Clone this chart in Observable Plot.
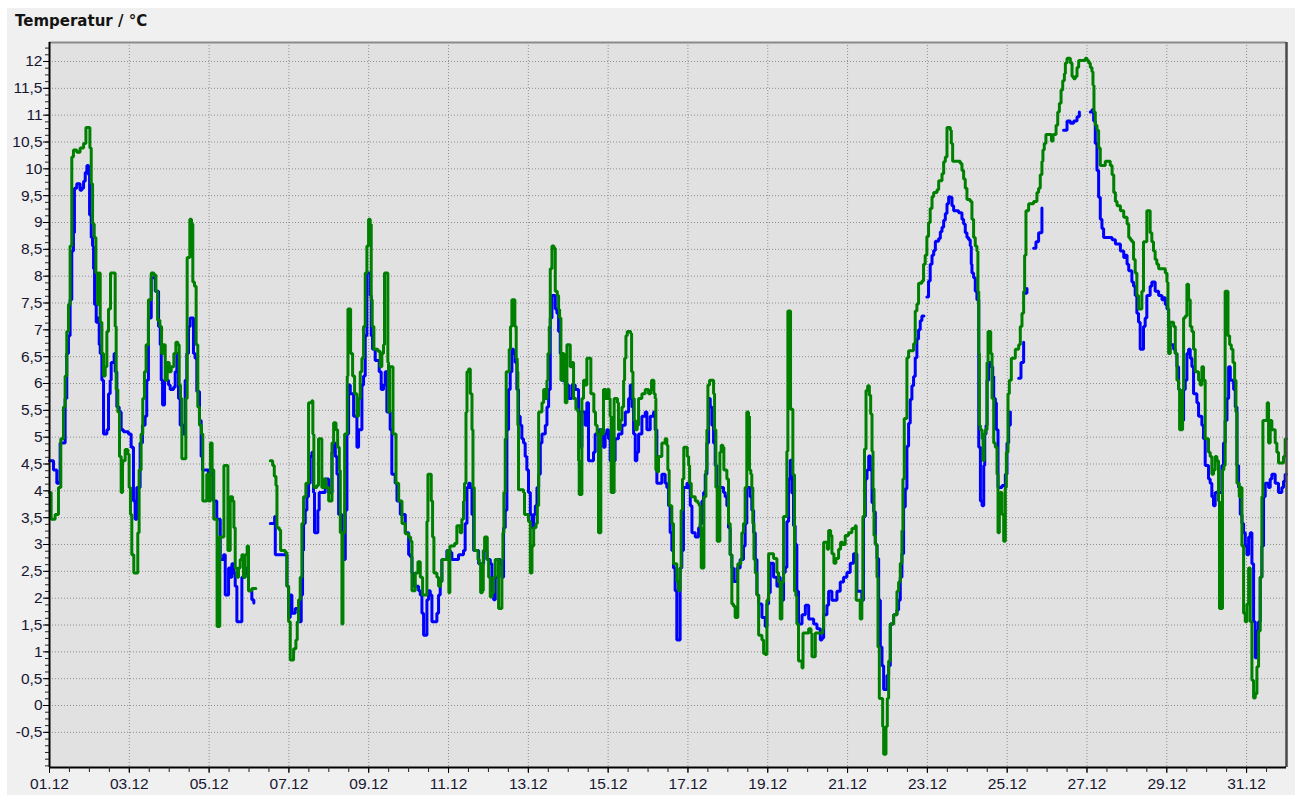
<!DOCTYPE html>
<html>
<head>
<meta charset="utf-8">
<script src="https://cdn.jsdelivr.net/npm/d3@7"></script>
<script src="https://cdn.jsdelivr.net/npm/@observablehq/plot@0.6"></script>
<style>
  html, body { margin: 0; padding: 0; background: #ffffff; overflow: hidden; }
  #wrap { position: relative; width: 1295px; height: 795px; }
  #panel { position: absolute; left: 7px; top: 8px; right: 0; bottom: 0; background: #f0f0f0; }
  #title { position: absolute; left: 15px; top: 14px; font: bold 15px/1 "DejaVu Sans", sans-serif; color: #141414; white-space: nowrap; }
  #chart { position: absolute; left: 0; top: 0; }
</style>
</head>
<body>
<div id="wrap">
  <div id="panel"></div>
  <div id="title">Temperatur / °C</div>
  <div id="chart"></div>
</div>
<script>
// hours since 01.12 00:00, temperature in °C (null = gap)
const greenSeries = [[0,3.97],[1,3.47],[3.4,3.56],[5.4,4.06],[6.8,4.97],[8.4,5.56],[9.4,6.14],[10.4,6.97],[11.4,7.47],[12.4,8.56],[13.4,10.22],[14.4,10.35],[16.4,10.31],[18.4,10.39],[20.5,10.47],[21.9,10.77],[23.5,10.77],[24.3,10.39],[25.1,9.72],[25.9,8.97],[26.9,8.72],[27.9,8.06],[28.9,7.47],[29.5,8.06],[30.5,7.14],[31.5,6.56],[32.5,6.14],[33.5,6.31],[34.5,6.97],[35.5,7.39],[36.7,8.06],[38.7,8.06],[39.5,7.06],[40.1,5.89],[41.1,5.47],[42.1,4.64],[43.1,3.97],[43.9,4.56],[45.5,4.77],[47.1,4.68],[47.9,4.06],[48.7,3.56],[49.5,2.81],[50.7,2.47],[52.1,2.47],[53.1,3.22],[53.9,4.39],[55.1,5.06],[56.1,5.72],[57.1,6.22],[58.1,6.72],[59.5,7.56],[61.2,8.06],[62.8,8.02],[64.0,7.72],[65.0,7.18],[66.4,7.06],[67.4,6.56],[68.4,6.72],[69.6,6.06],[70.8,6.39],[72.0,6.22],[73.2,6.31],[74.8,6.56],[76.0,6.77],[77.2,6.72],[78.0,5.97],[78.8,5.72],[79.6,4.6],[81.2,4.6],[82.0,5.72],[82.8,8.35],[83.8,8.35],[84.4,9.06],[85.4,8.97],[86.2,7.89],[87.2,7.81],[88.2,6.72],[89.2,5.56],[90.2,5.22],[91.4,5.06],[92.2,3.81],[93.8,3.81],[94.6,4.31],[95.6,3.81],[96.8,4.89],[97.8,4.39],[98.8,3.47],[100.0,3.47],[100.8,1.47],[102.0,1.47],[102.4,3.14],[104.0,3.14],[104.9,4.47],[106.1,4.47],[107.3,2.89],[108.7,3.89],[110.1,3.81],[110.9,3.31],[111.7,2.56],[112.7,2.39],[113.7,2.56],[114.7,2.72],[115.7,2.81],[116.7,2.39],[117.7,2.81],[118.9,2.97],[119.7,2.14],[121.7,2.18],[124.1,2.18],[125,null],[132.8,4.56],[134.2,4.47],[135.2,4.27],[136.2,4.1],[136.8,3.31],[138.2,3.27],[139.0,2.89],[141.8,2.85],[142.8,2.22],[143.8,1.56],[144.8,0.85],[146.8,1.06],[148.2,1.22],[149.0,1.56],[149.8,1.97],[150.8,2.39],[151.8,3.39],[152.8,3.89],[154.2,4.14],[155.8,5.64],[157.8,5.68],[158.4,5.06],[159.0,4.06],[160.8,4.1],[161.8,4.97],[163.0,4.97],[163.8,4.06],[165.0,4.22],[166.2,4.06],[167.9,3.81],[169.1,3.81],[169.9,4.89],[170.9,5.27],[172.3,5.14],[173.3,4.81],[174.3,4.39],[174.9,3.22],[175.9,1.52],[176.5,3.22],[177.5,5.06],[178.5,5.06],[179.1,6.14],[179.5,7.39],[180.5,7.39],[181.1,6.56],[182.3,6.14],[183.5,5.81],[184.9,5.39],[185.9,5.72],[186.9,6.22],[187.9,6.47],[188.9,7.06],[189.9,8.06],[190.9,8.56],[191.9,9.06],[192.9,8.97],[193.5,7.56],[194.1,7.06],[195.1,6.64],[197.5,6.6],[198.9,6.31],[199.9,6.56],[200.9,6.72],[201.5,8.06],[202.9,8.06],[203.5,6.39],[203.9,5.47],[204.5,6.31],[205.5,6.31],[206.6,5.06],[207.6,5.06],[208.4,4.14],[210.0,3.81],[212.0,3.39],[214.0,3.2],[216.0,3.14],[217.2,3.06],[218.0,2.14],[219.4,2.14],[220.0,2.47],[221.6,2.68],[223.0,2.39],[224.4,2.06],[226.4,2.06],[227.0,3.43],[227.6,4.31],[228.8,4.31],[229.6,3.81],[230.4,3.14],[231.2,2.47],[233.0,2.39],[234.0,2.22],[235.2,2.31],[236.0,2.72],[238.4,2.72],[239.4,2.89],[240.2,2.1],[240.8,2.97],[243.6,3.02],[245.0,3.35],[247.0,3.22],[248.0,3.47],[249.0,3.81],[249.6,4.14],[250.5,5.47],[251.1,6.22],[252.1,6.27],[253.1,5.81],[254.1,5.14],[254.7,4.06],[255.5,2.89],[257.7,2.72],[258.5,2.64],[259.3,2.1],[260.3,2.14],[260.9,2.89],[261.7,3.14],[262.7,3.14],[263.3,2.72],[264.1,2.39],[265.1,2.02],[266.1,2.1],[267.1,2.39],[268.1,2.72],[269.3,2.72],[270.1,1.81],[271.3,1.81],[272.1,2.72],[272.7,3.22],[273.3,3.97],[274.1,4.97],[274.7,6.22],[276.5,6.64],[277.3,7.06],[278.1,7.56],[279.3,7.56],[279.9,7.06],[280.7,6.47],[281.3,6.22],[281.7,5.22],[282.1,4.02],[285.1,3.97],[285.7,3.56],[288.1,3.43],[289.2,2.47],[290.2,2.97],[291.2,3.31],[292.6,3.39],[293.4,3.72],[294.2,5.47],[296.2,5.64],[297.2,5.89],[298.2,5.72],[299.2,6.06],[299.8,6.56],[300.6,7.06],[301.2,8.14],[302.2,8.56],[303.4,8.52],[304.2,7.72],[305.4,7.64],[306.2,7.39],[306.8,7.22],[307.6,6.06],[308.4,6.56],[309.4,6.39],[310.2,5.64],[311.2,6.72],[312.4,6.72],[313.2,6.31],[314.4,6.39],[315.2,5.72],[316.6,5.52],[317.8,5.47],[318.2,4.56],[318.6,3.93],[319.6,3.93],[320.2,5.72],[321.2,6.06],[322.2,5.97],[323.2,6.47],[325.0,6.47],[325.6,5.81],[326.6,5.81],[327.4,5.47],[328.4,5.22],[329.4,5.06],[330.2,3.22],[331.0,3.22],[331.6,5.14],[332.6,5.06],[333.2,5.89],[334.6,5.72],[335.6,5.89],[336.6,5.72],[337.2,5.39],[337.8,3.97],[339.0,3.97],[339.6,5.72],[340.8,5.72],[341.6,5.64],[342.2,5.14],[343.3,5.31],[344.3,5.56],[345.3,6.06],[345.9,6.47],[346.7,6.89],[347.5,6.97],[349.5,6.93],[350.1,6.22],[350.9,5.72],[351.7,5.31],[352.5,5.14],[353.5,5.22],[354.3,5.72],[356.3,5.81],[358.3,5.89],[360.3,5.81],[361.5,5.89],[362.1,6.06],[362.9,6.06],[363.5,5.81],[364.3,5.72],[364.7,4.39],[365.7,4.35],[366.3,4.64],[368.3,4.89],[370.3,4.97],[371.3,4.85],[371.9,4.39],[372.7,3.72],[373.7,3.72],[374.3,3.39],[375.3,2.64],[376.5,2.64],[377.3,2.31],[378.3,2.14],[379.3,2.56],[379.9,3.64],[380.7,4.22],[381.5,4.81],[382.5,4.81],[383.6,4.64],[384.4,4.47],[385.0,4.14],[386.0,3.89],[388.4,3.81],[390.0,3.77],[390.8,3.72],[391.4,3.31],[392.0,2.56],[393.0,2.56],[393.6,3.89],[394.8,4.39],[395.4,5.14],[396.0,5.97],[397.0,6.06],[398.4,6.06],[399.4,5.81],[400.0,5.14],[400.8,4.06],[401.6,3.06],[402.6,3.06],[403.2,4.72],[404.0,4.85],[405.0,4.81],[405.6,4.39],[407.4,4.22],[408.4,3.39],[409.4,2.81],[410.4,1.89],[411.4,1.85],[412.4,1.64],[413.6,1.64],[414.0,2.64],[415.8,2.72],[416.4,3.22],[417.4,3.39],[418.4,4.06],[419.4,5.47],[420.4,5.39],[421.0,4.39],[421.8,4.31],[422.4,4.06],[423.0,3.39],[423.7,2.72],[424.5,2.47],[425.5,2.06],[426.5,1.31],[428.5,1.22],[429.5,0.97],[430.5,0.95],[431.5,1.96],[432.5,2.83],[435.5,2.74],[437.5,2.48],[438.5,2.30],[439.5,1.61],[440.5,2.30],[441.5,3.52],[442.9,3.52],[443.5,4.74],[444.1,7.35],[445.3,7.35],[445.7,5.52],[446.7,5.52],[447.1,4.30],[448.1,2.13],[448.9,2.04],[449.5,1.52],[450.5,0.83],[452.6,0.7],[453.2,1.35],[456.6,1.43],[458.0,1.35],[458.6,0.91],[459.8,0.91],[460.6,1.35],[465.0,1.43],[465.6,3.04],[467.0,3.04],[467.8,2.91],[468.6,3.26],[469.8,3.17],[470.6,2.83],[471.8,2.65],[473.0,2.74],[474.6,2.91],[475.8,3.04],[477.0,3.0],[478.6,3.17],[480.6,3.22],[482.6,3.3],[484.6,3.35],[485.2,1.96],[487.6,1.61],[488.6,1.96],[489.2,3.52],[490.2,4.78],[491.1,5.87],[492.1,5.96],[493.1,5.78],[493.9,5.43],[494.7,4.74],[495.3,4.04],[495.9,3.17],[496.7,3.0],[497.7,2.39],[498.3,1.09],[499.1,0.13],[500.3,0.13],[501.1,-0.39],[501.7,-0.91],[502.7,-0.91],[503.1,-0.39],[503.9,0.13],[504.7,0.83],[505.7,1.52],[507.7,1.69],[509.7,2.13],[510.7,2.30],[511.7,2.65],[512.7,3.26],[513.3,4.22],[514.1,5.35],[515.1,5.35],[515.7,6.48],[516.7,6.61],[519.7,6.74],[520.7,7.35],[521.7,7.48],[522.7,7.87],[524.7,7.91],[525.7,8.22],[526.7,8.39],[527.7,8.74],[528.7,9.0],[529.7,9.26],[530.8,9.48],[531.8,9.56],[533.8,9.61],[534.8,9.78],[536.8,9.91],[537.8,10.13],[538.8,10.22],[539.8,10.77],[541.8,10.72],[542.4,10.47],[543.2,10.14],[547.8,10.1],[548.8,9.97],[549.8,9.81],[550.8,9.64],[551.8,9.43],[553.8,9.39],[554.8,9.06],[555.8,8.72],[556.8,8.56],[557.8,8.47],[558.4,7.72],[558.9,6.56],[559.3,5.22],[559.9,5.14],[560.9,4.97],[561.5,4.56],[562.1,5.06],[562.9,5.14],[563.9,6.39],[564.5,6.97],[565.5,6.97],[566.1,6.56],[566.9,5.72],[567.9,4.89],[568.9,4.81],[569.9,4.31],[570.5,3.22],[571.3,3.72],[571.9,3.97],[572.9,3.56],[573.9,3.06],[574.9,4.06],[575.5,4.72],[576.5,5.81],[577.3,6.06],[578.5,6.47],[580.9,6.64],[582.9,6.72],[583.9,7.06],[584.9,7.31],[585.9,7.72],[586.5,8.39],[587.3,9.22],[588.9,9.35],[591.9,9.39],[593.9,9.56],[594.9,9.64],[595.9,9.89],[596.9,10.14],[597.5,10.35],[598.3,10.47],[599.3,10.64],[601.4,10.64],[602.6,10.52],[603.6,10.64],[605.4,10.81],[606.4,11.06],[607.4,11.22],[608.4,11.47],[609.4,11.64],[610.4,11.77],[611.0,11.97],[612.0,12.06],[613.0,12.06],[614.0,11.97],[615.0,11.72],[616.0,11.68],[617.0,11.72],[618.0,11.89],[619.0,12.02],[623.0,12.06],[624.0,12.02],[625.0,11.97],[626.0,11.89],[627.0,11.81],[627.6,11.56],[628.2,11.06],[629.0,10.81],[630.0,10.72],[631.0,10.39],[632.0,10.06],[634.0,10.06],[635.0,10.14],[637.0,10.14],[638.0,10.06],[639.1,9.89],[640.1,9.56],[641.1,9.39],[642.1,9.31],[644.1,9.22],[646.1,9.1],[648.1,8.97],[649.1,8.72],[650.0,8.68],[651.0,8.64],[652.0,8.31],[653.0,8.06],[654.0,7.64],[655.0,7.39],[656.0,7.39],[657.0,7.72],[658.0,8.64],[659.0,8.64],[660.0,9.22],[661.0,9.22],[662.0,8.81],[663.0,8.64],[664.0,8.47],[665.0,8.31],[666.0,8.22],[667.1,8.14],[670.1,8.14],[671.1,8.06],[672.1,7.89],[672.7,7.39],[673.1,6.56],[674.1,7.14],[676.1,7.06],[677.1,6.56],[678.1,6.06],[679.1,5.89],[679.7,5.14],[680.7,5.14],[681.5,5.89],[682.1,7.22],[683.1,7.26],[684.1,7.85],[685.1,7.56],[686.1,7.06],[687.1,6.97],[688.1,6.64],[689.1,6.22],[691.1,6.06],[692.1,5.97],[693.1,6.31],[694.1,6.06],[695.1,4.97],[697.1,4.72],[698.1,4.64],[699.1,4.31],[700.1,4.39],[701.1,4.64],[702.1,4.56],[703.1,3.81],[703.7,1.81],[704.7,1.81],[705.5,4.39],[706.3,4.47],[707.1,7.72],[708.2,7.72],[708.8,6.89],[709.8,6.72],[710.8,6.64],[711.8,6.39],[712.8,6.06],[713.6,5.47],[714.2,4.14],[715.6,3.89],[716.4,4.06],[717.2,2.97],[718.2,1.72],[719.2,1.56],[720.2,1.89],[721.2,2.56],[722.2,1.56],[723.2,0.47],[724.2,0.14],[725.2,0.22],[726.2,0.72],[727.2,1.39],[728.2,2.39],[729.2,3.89],[729.8,5.31],[731.8,5.31],[732.4,5.64],[733.2,4.89],[734.2,5.31],[735.2,5.14],[737.2,4.89],[738.2,4.72],[739.2,4.52],[741.2,4.52],[742.2,4.64],[743.2,4.97],[744,4.97]];

const blueSeries = [[0,4.56],[2.4,4.39],[4.4,4.14],[5.8,4.18],[6.4,4.89],[9.4,5.72],[10.4,6.56],[11.4,6.89],[12.4,7.56],[13.4,8.47],[14.4,8.81],[15.0,9.64],[16.4,9.72],[18.4,9.6],[19.4,9.64],[20.5,9.77],[21.5,9.93],[22.5,10.06],[23.5,9.89],[24.1,9.14],[25.1,8.72],[25.9,8.56],[26.5,8.14],[27.1,7.47],[28.1,7.14],[29.1,7.22],[29.9,6.72],[30.5,6.56],[31.5,6.06],[32.5,5.06],[34.5,5.14],[35.5,5.81],[36.5,6.06],[37.1,6.39],[38.9,6.56],[39.5,6.22],[40.5,5.56],[41.9,5.47],[43.1,5.14],[44.5,5.1],[47.5,5.06],[49.1,4.81],[50.5,3.81],[51.5,3.47],[52.5,4.06],[53.5,4.06],[54.5,4.89],[55.9,5.22],[57.5,5.39],[58.5,6.06],[59.5,7.22],[61.2,7.97],[63.6,7.72],[65.6,7.06],[66.6,6.72],[67.2,6.06],[68.0,5.6],[69.2,6.06],[71.6,5.97],[72.6,5.89],[74.6,5.93],[75.6,6.22],[76.6,6.56],[77.6,5.72],[78.6,5.22],[80.6,5.06],[81.6,6.06],[82.6,6.56],[83.6,7.06],[84.6,7.22],[85.6,7.22],[86.6,6.56],[87.6,6.47],[88.6,5.85],[90.2,5.31],[91.2,4.64],[92.0,4.39],[95.6,4.31],[97.6,4.39],[98.6,3.81],[100.6,3.47],[101.6,3.47],[102.7,2.72],[104.7,2.81],[105.7,2.06],[106.7,2.06],[107.7,2.56],[108.7,2.39],[109.7,2.64],[110.7,2.47],[111.7,2.22],[112.7,1.56],[114.7,1.56],[115.7,2.39],[117.7,2.47],[118.7,2.56],[119.7,2.14],[121.7,1.97],[122.9,1.91],[125,null],[132.8,3.39],[135.4,3.52],[135.8,2.81],[139.0,2.81],[142.8,2.22],[143.8,1.64],[144.8,2.06],[145.8,1.72],[147.8,1.81],[149.8,1.56],[151.4,2.06],[152.2,2.89],[152.8,3.39],[153.8,3.64],[154.8,3.89],[155.8,4.14],[156.8,4.64],[157.8,4.72],[158.8,3.97],[159.4,3.22],[160.2,3.22],[161.4,3.64],[162.2,3.97],[163.8,3.97],[165.8,4.22],[167.9,3.97],[169.9,4.72],[170.9,4.89],[171.9,4.64],[172.9,4.31],[173.9,3.56],[175.9,3.22],[176.9,2.72],[177.9,3.64],[178.9,5.06],[179.9,5.97],[180.9,5.81],[182.9,5.39],[184.9,4.81],[185.9,5.14],[187.9,5.97],[188.9,6.14],[189.9,6.89],[190.9,8.06],[191.9,8.06],[192.9,7.64],[193.5,6.89],[194.3,6.64],[195.9,6.43],[198.3,6.22],[199.5,5.89],[200.9,5.97],[201.9,6.22],[202.9,5.47],[204.9,5.14],[205.9,4.31],[207.9,4.14],[209.0,3.81],[211.0,3.56],[214.0,3.22],[216.0,2.81],[217.0,2.77],[218.0,2.47],[219.0,2.22],[222.0,2.14],[223.0,2.06],[224.0,1.72],[225.0,1.31],[226.4,1.31],[227.0,1.97],[228.0,2.14],[229.0,2.06],[230.0,1.56],[232.0,1.56],[233.0,1.72],[234.0,2.06],[235.0,2.31],[236.0,2.72],[239.0,2.89],[241.0,2.85],[242.0,2.72],[244.0,2.72],[246.0,2.81],[249.0,2.89],[250.0,3.39],[251.1,4.06],[252.1,4.14],[253.1,4.06],[254.1,3.56],[255.1,2.89],[258.1,2.64],[259.7,2.64],[261.1,2.89],[263.1,2.72],[265.1,2.64],[266.1,2.06],[267.1,1.97],[268.1,2.39],[270.1,2.72],[271.1,2.64],[272.1,2.39],[273.1,3.31],[274.1,3.64],[275.1,5.14],[276.1,5.89],[277.1,6.22],[278.1,6.64],[279.1,6.56],[280.1,6.39],[281.1,5.89],[282.1,5.39],[283.1,5.22],[284.1,4.97],[285.1,4.89],[286.1,4.64],[287.1,4.39],[288.1,3.97],[289.2,3.56],[290.2,3.31],[291.2,3.56],[292.2,3.72],[293.2,4.06],[294.2,4.31],[295.2,4.89],[296.2,5.06],[298.2,5.22],[299.2,5.56],[300.2,5.89],[301.2,7.22],[302.2,7.64],[304.2,7.39],[305.2,7.31],[306.2,6.97],[307.2,6.56],[308.2,6.06],[310.2,5.97],[312.2,5.72],[314.2,5.97],[316.2,5.89],[318.2,5.47],[319.2,4.81],[320.2,5.47],[322.2,5.22],[323.2,5.64],[324.2,4.56],[325.2,4.56],[327.2,4.72],[328.2,5.06],[330.2,5.14],[332.2,5.06],[333.2,4.81],[334.2,5.06],[335.2,5.14],[336.2,4.97],[337.2,4.56],[339.2,4.56],[340.2,4.97],[342.2,5.06],[344.3,5.22],[346.3,5.47],[348.3,5.72],[349.3,5.97],[350.3,5.56],[351.3,5.06],[352.3,4.56],[353.3,4.72],[354.3,5.06],[356.3,5.39],[358.3,5.47],[359.3,5.14],[361.3,5.39],[363.3,5.47],[364.3,5.14],[365.3,4.14],[368.3,4.31],[370.3,4.14],[371.3,4.06],[372.3,3.72],[373.3,3.22],[374.3,2.89],[375.3,2.56],[376.3,2.14],[377.3,1.22],[378.3,1.22],[379.3,2.56],[380.3,2.89],[381.3,4.06],[383.4,4.14],[384.4,4.06],[385.4,3.72],[386.4,3.22],[388.4,3.14],[390.4,3.31],[391.4,3.39],[392.4,3.81],[393.4,3.97],[394.4,4.31],[395.4,4.89],[396.4,5.72],[397.4,5.56],[398.4,5.22],[399.4,4.89],[400.4,4.47],[401.4,4.06],[405.4,3.97],[406.4,3.89],[407.4,3.72],[408.4,3.31],[409.4,2.81],[410.4,2.56],[411.4,2.31],[412.4,2.31],[413.4,2.56],[415.4,2.72],[417.4,2.97],[418.4,3.39],[419.4,4.06],[420.4,4.06],[421.4,3.89],[422.4,3.64],[423.5,3.22],[424.5,2.72],[425.5,2.06],[426.5,1.89],[428.5,1.64],[430.5,1.47],[431.5,1.89],[432.5,2.1],[433.5,2.65],[435.5,2.39],[437.5,2.22],[438.5,2.39],[439.5,2.30],[440.5,1.96],[441.5,2.48],[442.5,2.57],[443.5,3.43],[444.5,4.22],[445.5,4.57],[446.5,3.96],[447.5,3.35],[448.5,3.0],[449.5,2.13],[450.5,1.52],[452.6,1.69],[454.6,1.87],[456.6,1.61],[459.6,1.52],[461.6,1.43],[463.6,1.22],[464.6,1.26],[465.6,1.69],[467.6,1.87],[468.6,2.13],[470.6,1.96],[472.6,1.96],[473.6,2.13],[475.6,2.30],[477.6,2.39],[479.6,2.48],[481.6,2.65],[483.6,2.83],[484.6,2.83],[485.6,2.13],[488.6,1.96],[489.6,3.52],[490.7,4.22],[491.7,4.39],[492.7,4.65],[493.7,4.39],[494.7,3.78],[495.7,3.61],[496.7,3.0],[497.7,2.74],[498.7,1.96],[499.7,1.09],[500.7,0.74],[501.7,0.3],[502.7,0.3],[503.7,0.56],[504.7,0.74],[505.7,1.52],[507.7,1.69],[509.7,1.78],[510.7,1.96],[511.7,2.39],[512.7,2.83],[513.7,3.7],[514.7,4.04],[515.7,4.83],[516.7,5.26],[517.7,5.7],[518.7,5.96],[519.7,6.13],[520.7,6.48],[521.7,6.83],[522.7,7.0],[523.7,7.17],[524.7,7.26],[525.9,7.26],[526.5,null],[527.7,7.61],[528.7,7.91],[529.7,8.22],[530.8,8.39],[531.8,8.48],[532.8,8.65],[534.8,8.7],[535.8,8.83],[536.8,8.91],[537.8,9.04],[538.8,9.17],[539.8,9.35],[540.8,9.48],[541.8,9.47],[542.8,9.31],[543.8,9.22],[546.8,9.18],[548.8,9.06],[549.8,8.97],[550.8,8.81],[551.8,8.72],[552.8,8.68],[553.8,8.56],[554.4,8.22],[554.8,8.06],[555.8,7.97],[556.8,7.72],[557.8,7.56],[558.9,4.81],[559.9,3.81],[560.9,3.72],[561.9,4.47],[562.5,5.06],[563.3,5.22],[563.9,6.06],[564.9,6.39],[566.5,6.31],[567.3,6.14],[567.9,5.72],[568.9,5.64],[569.5,5.14],[570.5,4.06],[572.9,4.1],[574.9,4.31],[575.9,4.89],[576.9,5.22],[577.9,5.47],[579,null],[582.9,6.1],[584.3,6.39],[585.9,6.77],[586.4,null],[586.9,7.68],[587.9,7.77],[589,null],[591.9,8.52],[593.3,8.64],[594.9,8.81],[596.9,9.27],[598,null],[609.9,10.72],[612.0,10.89],[614.0,10.85],[616.0,10.89],[618.0,10.97],[619.4,11.06],[620,null],[626.0,11.06],[627.0,11.1],[628.0,10.89],[629.0,10.47],[630.0,9.97],[631.0,9.47],[632.0,9.06],[633.0,8.89],[634.0,8.72],[639.1,8.68],[641.1,8.6],[643.1,8.6],[644.1,8.47],[646.1,8.35],[647.0,8.39],[648.1,8.22],[649.1,8.1],[651.0,7.89],[652.0,7.81],[653.0,7.64],[654.0,7.31],[655.0,7.14],[656.0,6.64],[657.0,6.64],[658.0,7.06],[659.0,7.22],[660.0,7.64],[662.0,7.81],[663.0,7.89],[665.0,7.72],[667.1,7.64],[669.1,7.56],[670.1,7.6],[671.1,7.47],[672.1,7.39],[673.1,7.06],[674.1,6.72],[676.1,6.64],[677.1,6.56],[678.1,6.31],[679.1,5.89],[680.1,5.81],[681.1,5.31],[682.1,5.89],[683.1,6.06],[684.1,6.56],[685.1,6.64],[686.1,6.47],[687.1,6.31],[688.1,5.81],[690.1,5.64],[691.1,5.39],[693.1,5.22],[694.1,4.97],[695.1,4.47],[697.1,4.22],[698.1,4.14],[699.1,3.89],[700.1,3.72],[701.1,3.97],[704.1,3.97],[705.1,4.47],[706.1,4.89],[707.1,5.31],[708.2,5.72],[709.2,6.31],[710.2,6.06],[712.2,5.89],[713.2,5.56],[714.2,4.47],[715.2,4.06],[716.2,3.56],[717.2,3.39],[718.2,3.22],[719.2,2.97],[720.2,2.81],[721.2,3.14],[722.2,3.22],[723.2,2.64],[724.2,1.56],[725.2,0.89],[726.2,1.39],[727.2,1.56],[728.2,2.39],[729.2,2.97],[730.2,3.89],[731.2,4.14],[733.2,4.06],[734.2,4.22],[735.2,4.31],[737.2,4.14],[739.2,3.97],[741.2,4.06],[742.2,4.18],[743.2,4.31],[744,4.31]];

// axis ticks
const xTickDays = [1,3,5,7,9,11,13,15,17,19,21,23,25,27,29,31];
const yTicks = [-0.5,0,0.5,1,1.5,2,2.5,3,3.5,4,4.5,5,5.5,6,6.5,7,7.5,8,8.5,9,9.5,10,10.5,11,11.5,12];
const yDomain = [-1.155, 12.354];
const periodHours = [0, 744];

const start = Date.UTC(2023, 11, 1);
const toDate = h => new Date(start + h * 3600e3);
const rows = pairs => pairs.map(([h, v]) => ({t: toDate(h), v}));
const blueRows = rows(blueSeries);
const greenRows = rows(greenSeries);

const xTicks = xTickDays.map(d => new Date(Date.UTC(2023, 11, d)));
const xMinor = d3.range(periodHours[0], periodHours[1], 12).map(toDate);
const yMinor = d3.range(-1.125, 12.3, 0.125);
const xDomain = periodHours.map(toDate);

const fmtY = d => String(d).replace(".", ",");
const fmtX = d3.utcFormat("%d.%m");

const chart = Plot.plot({
  width: 1295,
  height: 795,
  marginLeft: 49,
  marginRight: 9,
  marginTop: 42,
  marginBottom: 28,
  style: {background: "transparent", fontFamily: "'Liberation Sans', Arial, sans-serif", fontSize: "15px", color: "#161630"},
  x: {type: "utc", domain: xDomain, label: null},
  y: {domain: yDomain, label: null},
  marks: [
    Plot.frame({fill: "#e1e1e1", stroke: null}),
    Plot.gridY(yTicks, {stroke: "#8f8f8f", strokeOpacity: 1, strokeDasharray: "1,2"}),
    Plot.gridX(xTicks, {stroke: "#8f8f8f", strokeOpacity: 1, strokeDasharray: "1,2"}),
    Plot.line(blueRows, {x: "t", y: "v", stroke: "#0000ff", strokeWidth: 3, curve: "step-after", strokeLinejoin: "miter"}),
    Plot.line(greenRows, {x: "t", y: "v", stroke: "#008000", strokeWidth: 3, curve: "step-after", strokeLinejoin: "miter"}),
    Plot.ruleY([yDomain[1]], {stroke: "#8a8a8a", strokeWidth: 2}),
    Plot.ruleX([xDomain[1]], {stroke: "#4a4a4a", strokeWidth: 2.5}),
    Plot.ruleY([yDomain[0]], {stroke: "#000", strokeWidth: 2}),
    Plot.ruleX([xDomain[0]], {stroke: "#000", strokeWidth: 2}),
    Plot.axisY(yMinor, {anchor: "left", tickSize: 4, tickFormat: () => "", label: null, stroke: "#222"}),
    Plot.axisY(yTicks, {anchor: "left", tickSize: 6, tickPadding: 1, tickFormat: fmtY, label: null, fontSize: 15.5, stroke: "#000"}),
    Plot.axisX(xMinor, {anchor: "bottom", tickSize: 5, tickFormat: () => "", label: null, stroke: "#222"}),
    Plot.axisX(xTicks, {anchor: "bottom", tickSize: 6, tickPadding: 4, tickFormat: fmtX, label: null, fontSize: 15.5, stroke: "#000"})
  ]
});
document.getElementById("chart").appendChild(chart);
</script>
</body>
</html>
